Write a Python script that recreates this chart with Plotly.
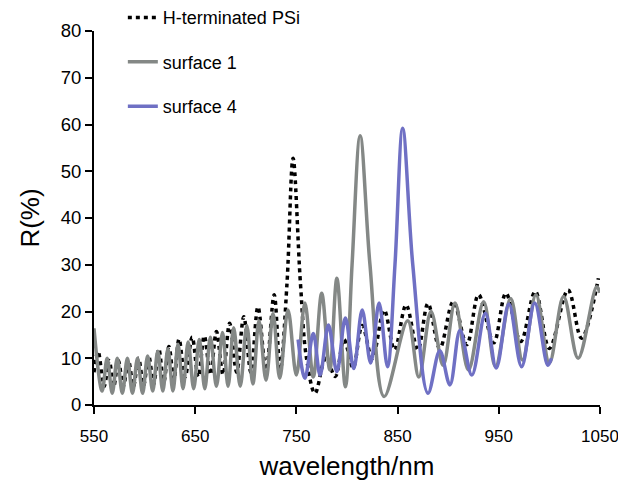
import plotly.graph_objects as go

# H-terminated PSi (black dotted) – read at extrema
h_wl = [550, 554, 560, 565, 569.5, 574, 579, 584, 589, 594, 599, 604, 609, 614, 619, 624, 629, 634,
        640, 647, 653, 659, 665, 671, 677.5, 684, 691, 698, 705, 712, 720, 728, 734, 740.7, 746.7,
        754, 760, 768.4, 779, 788.4, 797, 806, 815, 825, 836.7, 847, 858.4, 870, 880, 891.7, 905,
        918.4, 930, 945, 957, 971.7, 986, 1000, 1018.4, 1031.7, 1048.4]
h_R = [7, 11.5, 4, 9.5, 4, 9.5, 4, 9.5, 4, 10, 4.2, 10.5, 4.5, 12, 5, 12.5, 5.5, 14.1,
       6, 14.5, 6, 14.8, 6.5, 15.7, 6.5, 17.5, 7, 18.9, 7, 21, 7.5, 23.6, 7.5, 26, 52.8,
       26, 10, 2.5, 10, 6.1, 14, 8, 17, 10, 20.3, 11.8, 21.4, 11.8, 21.7, 12.1, 22.1,
       12.9, 23.6, 13.3, 23.9, 13.6, 24.3, 12.1, 24.6, 14.3, 27.1]

# surface 1 (grey)
s1_wl = [550, 558, 563, 568, 573, 578, 583, 588, 593, 598, 603, 608, 613, 618, 623, 628, 633, 638,
         643, 648.5, 654, 659.5, 665, 671, 677, 682.5, 688, 694.5, 701, 707, 713, 720, 727, 733.5,
         741.7, 750, 758.4, 766.7, 775, 783, 790, 798.4, 805, 813, 822.7, 836.7, 860, 871, 883,
         895, 906.7, 920, 935, 946.7, 961.7, 973.4, 986.7, 1000, 1014, 1028.4, 1046.7, 1050]
s1_R = [16.4, 3, 10, 2.5, 10, 2.5, 10, 2.5, 10, 2.5, 10.5, 3, 11.5, 3, 12, 3, 13, 3.5,
        13.5, 3.5, 14, 3.5, 14.5, 4, 15.5, 4, 16.5, 4, 17, 4.5, 18, 5.3, 19.5, 5.7,
        20.3, 6.4, 21.8, 6, 23.9, 7.5, 27.1, 3.9, 30, 57.6, 30, 1.8, 18, 6, 20,
        8.5, 21.8, 7.5, 22.1, 8.2, 22.8, 9.6, 23.6, 9, 23.2, 10, 25.3, 24]

# surface 4 (blue)
s4_wl = [751.7, 758.4, 766.7, 773.4, 781.7, 790, 798.4, 806.7, 815, 823.4, 831.7, 840, 847.4, 855,
         865, 880, 891.7, 901.7, 911.7, 923.4, 936.7, 947.5, 960, 972.5, 985.5, 998.4, 1002]
s4_R = [14, 5.7, 15.3, 6.4, 17.1, 7.1, 18.6, 7.8, 20.3, 9, 21.8, 8.2, 30, 59.2,
        30, 2.5, 11.6, 4.3, 16, 6.4, 19.6, 7.9, 21.6, 8.2, 21.8, 8.5, 10]

x_ticks = [550, 650, 750, 850, 950, 1050]
y_ticks = [0, 10, 20, 30, 40, 50, 60, 70, 80]

FONT = "Liberation Sans, Arial, sans-serif"

fig = go.Figure()
fig.add_trace(go.Scatter(x=h_wl, y=h_R, mode="lines", name="H-terminated PSi",
                         legendgroup="a",
                         line=dict(color="black", width=3.5, dash="4px,4px", shape="spline")))
fig.add_trace(go.Scatter(x=s1_wl, y=s1_R, mode="lines", name="surface 1",
                         legendgroup="b",
                         line=dict(color="#848886", width=3.5, shape="spline")))
fig.add_trace(go.Scatter(x=s4_wl, y=s4_R, mode="lines", name="surface 4",
                         legendgroup="c",
                         line=dict(color="#6f70c4", width=3.5, shape="spline")))

axis_common = dict(showline=True, linecolor="black", linewidth=2, ticks="outside",
                   ticklen=7, tickwidth=2, tickcolor="black", showgrid=False,
                   zeroline=False, automargin=False, ticklabeloverflow="allow")

fig.update_layout(
    width=618, height=491,
    margin=dict(l=94, r=18, t=31, b=86, autoexpand=False),
    paper_bgcolor="white", plot_bgcolor="white",
    font=dict(family=FONT, color="black"),
    xaxis=dict(range=[550, 1050], tickvals=x_ticks, ticklabelstandoff=8, **axis_common,
               tickfont=dict(family=FONT, size=17, color="black"),
               title=dict(text="wavelength/nm", font=dict(family=FONT, size=26), standoff=11)),
    yaxis=dict(range=[0, 80], tickvals=y_ticks, **axis_common,
               tickfont=dict(family=FONT, size=18.5, color="black"),
               title=dict(text="R(%)", font=dict(family=FONT, size=26), standoff=14)),
    legend=dict(x=0.057, y=1.085, xanchor="left", yanchor="top",
                font=dict(family=FONT, size=18, color="black"),
                bgcolor="rgba(0,0,0,0)", tracegroupgap=18),
    showlegend=True,
)

# remove the default page margin / scrollbars so the 618x491 figure fills the window
fig.write_html("out.html",
               config={"displayModeBar": False},
               post_script="document.body.style.margin='0';"
                           "document.body.style.overflow='hidden';")
